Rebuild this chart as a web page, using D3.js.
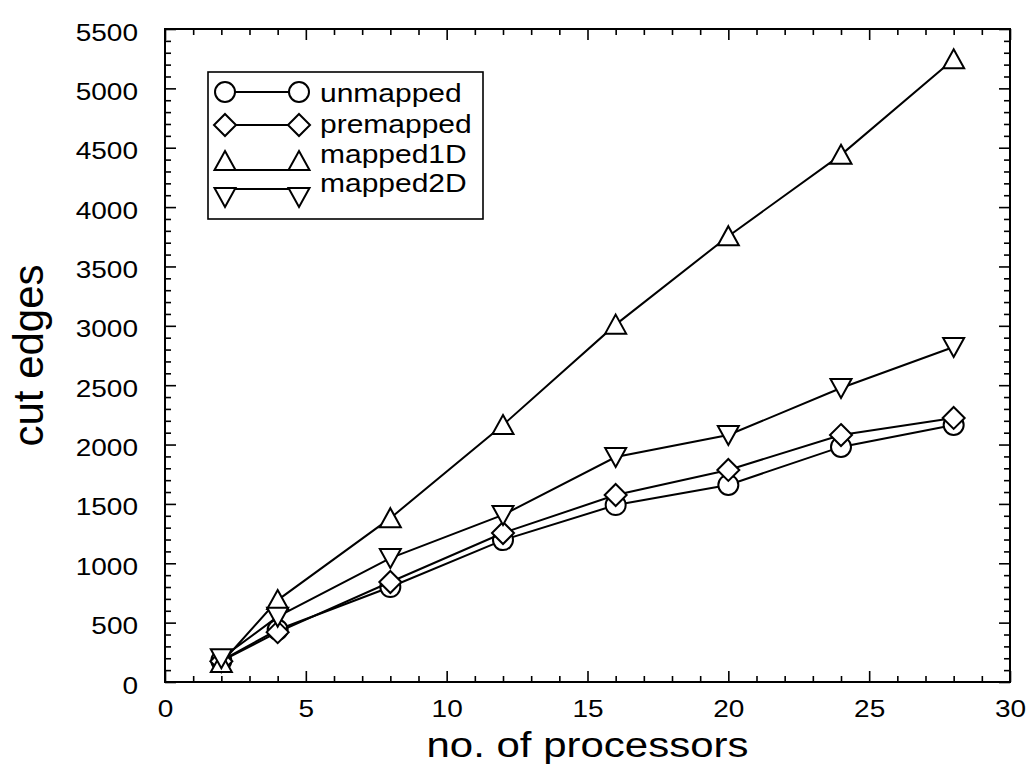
<!DOCTYPE html>
<html>
<head>
<meta charset="utf-8">
<script src="https://d3js.org/d3.v7.min.js"></script>
<style>
body { margin: 0; background: #fff; }
svg { display: block; }
text { font-family: 'Liberation Sans', Arial, Helvetica, sans-serif; fill: #000; }
</style>
</head>
<body>
<div id="plot"></div>
<script>

// data
var processors = [2, 4, 8, 12, 16, 20, 24, 28];
var unmapped  = [180, 440, 800, 1195, 1490, 1660, 1980, 2165];
var premapped = [175, 420, 842, 1255, 1575, 1786, 2080, 2224];
var mapped1D  = [160, 690, 1380, 2165, 3010, 3755, 4440, 5245];
var mapped2D  = [200, 550, 1044, 1407, 1895, 2080, 2476, 2822];

var seriesNames = ["unmapped", "premapped", "mapped1D", "mapped2D"];
var seriesValues = [unmapped, premapped, mapped1D, mapped2D];
var seriesShapes = ["circle", "diamond", "up", "down"];

var xMajor = [0, 5, 10, 15, 20, 25, 30];
var yMajor = d3.range(0, 5501, 500);

var width = 1033, height = 771;
var plotLeft = 165, plotRight = 1010, plotTop = 29, plotBottom = 682;
var squash = 0.85; // text in the picture is a bit flattened

var svg = d3.select("#plot").append("svg")
.attr("width", width).attr("height", height);

var xScale = d3.scaleLinear().domain([0, 30]).range([plotLeft, plotRight]);
var yScale = d3.scaleLinear().domain([0, 5500]).range([plotBottom, plotTop]);

/*** frame and ticks, inward on all four sides ***/

function tidy(g) {
  g.select(".domain").remove();
  g.selectAll(".tick line").attr("stroke", "#000").attr("stroke-width", 1.6);
}

var xMinor = d3.range(0, 31).filter(function (d) { return d % 5 !== 0; });
var yMinor = d3.range(0, 5501, 100).filter(function (d) { return d % 500 !== 0; });

svg.append("g").attr("transform", "translate(0," + plotBottom + ")")
.call(d3.axisBottom(xScale).tickValues(xMinor).tickSize(-6).tickFormat("")).call(tidy);
svg.append("g").attr("transform", "translate(0," + plotTop + ")")
.call(d3.axisTop(xScale).tickValues(xMinor).tickSize(-6).tickFormat("")).call(tidy);
svg.append("g").attr("transform", "translate(0," + plotTop + ")")
.call(d3.axisTop(xScale).tickValues(xMajor).tickSize(-11).tickFormat("")).call(tidy);
svg.append("g").attr("transform", "translate(" + plotLeft + ",0)")
.call(d3.axisLeft(yScale).tickValues(yMinor).tickSize(-6).tickFormat("")).call(tidy);
svg.append("g").attr("transform", "translate(" + plotRight + ",0)")
.call(d3.axisRight(yScale).tickValues(yMinor).tickSize(-6).tickFormat("")).call(tidy);
svg.append("g").attr("transform", "translate(" + plotRight + ",0)")
.call(d3.axisRight(yScale).tickValues(yMajor).tickSize(-11).tickFormat("")).call(tidy);

var xAxis = svg.append("g").attr("transform", "translate(0," + plotBottom + ")")
.call(d3.axisBottom(xScale).tickValues(xMajor).tickSize(-11).tickFormat(d3.format("d")))
.call(tidy);
xAxis.attr("font-family", null).attr("font-size", null);
xAxis.selectAll(".tick text")
.attr("font-size", 28)
.attr("y", 35 / squash).attr("dy", null)
.attr("transform", "scale(1," + squash + ")");

var yAxis = svg.append("g").attr("transform", "translate(" + plotLeft + ",0)")
.call(d3.axisLeft(yScale).tickValues(yMajor).tickSize(-11).tickPadding(27).tickFormat(d3.format("d")))
.call(tidy);
yAxis.attr("font-family", null).attr("font-size", null);
yAxis.selectAll(".tick text")
.attr("font-size", 28)
.attr("y", 11 / squash).attr("dy", null)
.attr("transform", "scale(1," + squash + ")");

svg.append("rect")
.attr("x", plotLeft).attr("y", plotTop)
.attr("width", plotRight - plotLeft).attr("height", plotBottom - plotTop)
.attr("fill", "none").attr("stroke", "#000").attr("stroke-width", 2);

/*** axis titles ***/

svg.append("text")
.attr("transform", "translate(" + (plotLeft + plotRight) / 2 + ",757) scale(1," + squash + ")")
.attr("text-anchor", "middle").attr("font-size", 42)
.text("no. of processors");

svg.append("text")
.attr("transform", "translate(43," + (plotTop + plotBottom) / 2 + ") rotate(-90)")
.attr("text-anchor", "middle").attr("font-size", 42)
.text("cut edges");

/*** markers ***/

function markerPath(shape) {
  if (shape === "circle") return d3.arc()({ innerRadius: 0, outerRadius: 10, startAngle: 0, endAngle: 2 * Math.PI });
  if (shape === "diamond") return "M0,-11L11,0L0,11L-11,0Z";
  if (shape === "up") return "M0,-10L10.5,9L-10.5,9Z";
  return "M0,10L10.5,-9L-10.5,-9Z";
}

var line = d3.line()
.x(function (d) { return xScale(d[0]); })
.y(function (d) { return yScale(d[1]); });

seriesValues.forEach(function (values, i) {
  var points = processors.map(function (p, j) { return [p, values[j]]; });
  var g = svg.append("g").attr("class", "series");
  g.append("path").datum(points)
  .attr("d", line)
  .attr("fill", "none").attr("stroke", "#000").attr("stroke-width", 2);
  g.selectAll("path.marker").data(points).enter()
  .append("path").attr("class", "marker")
  .attr("d", markerPath(seriesShapes[i]))
  .attr("transform", function (d) { return "translate(" + xScale(d[0]) + "," + yScale(d[1]) + ")"; })
  .attr("fill", "#fff").attr("stroke", "#000").attr("stroke-width", 2);
});

/*** legend ***/

var legend = svg.append("g");
legend.append("rect")
.attr("x", 208).attr("y", 72).attr("width", 275).attr("height", 147)
.attr("fill", "#fff").attr("stroke", "#000").attr("stroke-width", 1.6);

var legendRows = [92, 125, 161, 197];
var legendLineY = [92, 125, 170, 189];
var legendTextY = [102, 133, 163, 192];

seriesNames.forEach(function (name, i) {
  legend.append("line")
  .attr("x1", 225).attr("x2", 299)
  .attr("y1", legendLineY[i]).attr("y2", legendLineY[i])
  .attr("stroke", "#000").attr("stroke-width", 2);
  [225, 299].forEach(function (mx) {
    legend.append("path")
    .attr("d", markerPath(seriesShapes[i]))
    .attr("transform", "translate(" + mx + "," + legendRows[i] + ")")
    .attr("fill", "#fff").attr("stroke", "#000").attr("stroke-width", 2);
  });
  legend.append("text")
  .attr("transform", "translate(320," + legendTextY[i] + ") scale(1," + squash + ")")
  .attr("font-size", 30)
  .text(name);
});

</script>
</body>
</html>
